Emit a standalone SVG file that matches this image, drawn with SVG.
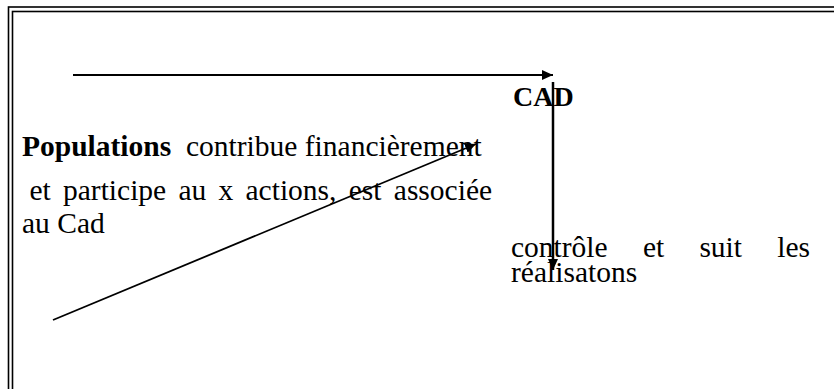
<svg xmlns="http://www.w3.org/2000/svg" width="834" height="389" viewBox="0 0 834 389">
  <style>
    .t { font-family: "Liberation Serif", "Times New Roman", serif; font-size: 29.5px; fill: #000; }
    .b { font-weight: bold; }
    .frame { fill: none; stroke: #000; stroke-width: 1.6; }
    .conn { stroke: #000; fill: none; }
  </style>
  <defs>
    <marker id="ah" markerUnits="userSpaceOnUse" markerWidth="12" markerHeight="10" refX="11" refY="5" orient="auto">
      <path d="M0,0 L11,5 L0,10 Z" fill="#000"/>
    </marker>
  </defs>
  <rect width="834" height="389" fill="#fff"/>
  <g id="frame">
    <rect class="frame" x="8.5" y="7" width="840" height="400"/>
    <rect class="frame" x="12.5" y="11.5" width="840" height="400"/>
  </g>
  <g id="connectors">
    <line class="conn" x1="73" y1="75" x2="553" y2="75" stroke-width="2" marker-end="url(#ah)"/>
    <line class="conn" x1="553" y1="82" x2="553" y2="270" stroke-width="2.5" marker-end="url(#ah)"/>
    <line class="conn" x1="53" y1="320" x2="476" y2="144" stroke-width="1.8" marker-end="url(#ah)"/>
  </g>
  <g id="cad">
    <text class="t b" x="513" y="106" style="font-size:28px">CAD</text>
  </g>
  <g id="populations">
    <text class="t" y="156"><tspan class="b" x="22">Populations</tspan><tspan x="186">contribue financièrement</tspan></text>
    <text class="t" y="200"><tspan x="29.4">et</tspan><tspan x="63">participe</tspan><tspan x="178.4">au</tspan><tspan x="218.5">x</tspan><tspan x="245.5">actions,</tspan><tspan x="348.7">est</tspan><tspan x="393.8">associée</tspan></text>
    <text class="t" x="22" y="233">au Cad</text>
  </g>
  <g id="controle">
    <text class="t" y="257"><tspan x="511">contrôle</tspan><tspan x="642.9">et</tspan><tspan x="699.4">suit</tspan><tspan x="810" text-anchor="end">les</tspan></text>
    <text class="t" x="511" y="282">réalisatons</text>
  </g>
</svg>
